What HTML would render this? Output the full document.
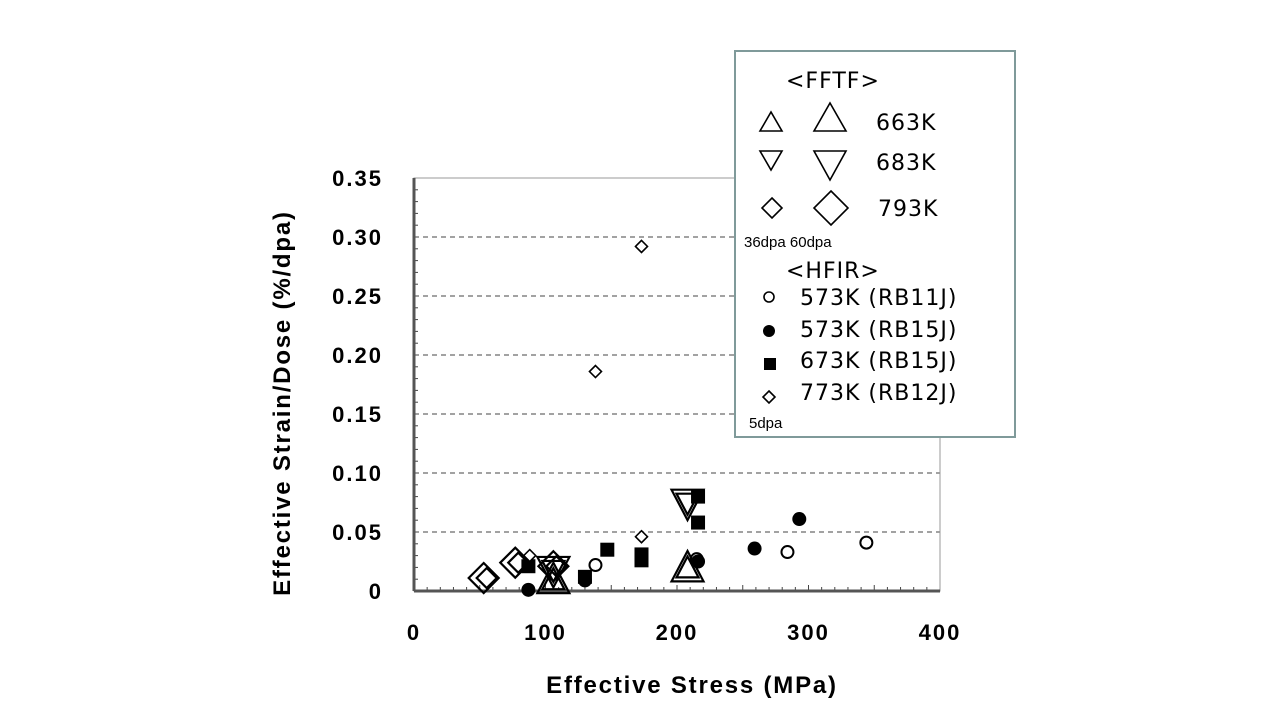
<!DOCTYPE html>
<html><head><meta charset="utf-8"><style>
body{margin:0;background:#fff;width:1280px;height:720px;overflow:hidden}
text{font-family:"Liberation Sans","Noto Sans CJK JP",sans-serif}
.lg{font-family:"DejaVu Sans","Noto Sans CJK JP",sans-serif;font-size:22px;letter-spacing:1px}
</style></head><body>
<svg width="1280" height="720">
<g id="grid"></g>
<g id="axes"></g>
<g id="marks"></g>
<text x="692" y="693" text-anchor="middle" font-size="24" font-weight="bold" letter-spacing="1.8">Effective Stress (MPa)</text>
<text transform="translate(290,403) rotate(-90)" text-anchor="middle" font-size="24" font-weight="bold" letter-spacing="1.8">Effective Strain/Dose (%/dpa)</text>
<g>
<rect x="735" y="51" width="280" height="386" fill="#fff" stroke="#7f9a9a" stroke-width="2"/>
<text class="lg" x="786" y="88">&lt;FFTF&gt;</text>
<polygon points="760,131 782,131 771,112" fill="none" stroke="#000" stroke-width="1.6"/>
<polygon points="814,131 846,131 830,103" fill="none" stroke="#000" stroke-width="1.6"/>
<text class="lg" x="876" y="130">663K</text>
<polygon points="760,151 782,151 771,170" fill="none" stroke="#000" stroke-width="1.6"/>
<polygon points="814,151 846,151 830,180" fill="none" stroke="#000" stroke-width="1.6"/>
<text class="lg" x="876" y="170">683K</text>
<polygon points="772,198 782,208 772,218 762,208" fill="none" stroke="#000" stroke-width="1.6"/>
<polygon points="831,191 848,208 831,225 814,208" fill="none" stroke="#000" stroke-width="1.6"/>
<text class="lg" x="878" y="216">793K</text>
<text x="744" y="247" font-size="15">36dpa 60dpa</text>
<text class="lg" x="786" y="278">&lt;HFIR&gt;</text>
<circle cx="769" cy="297" r="5" fill="none" stroke="#000" stroke-width="1.6"/>
<text class="lg" x="800" y="305">573K (RB11J)</text>
<circle cx="769" cy="331" r="6" fill="#000"/>
<text class="lg" x="800" y="337">573K (RB15J)</text>
<rect x="764" y="358" width="12" height="12" fill="#000"/>
<text class="lg" x="800" y="368">673K (RB15J)</text>
<polygon points="769,391 775,397 769,403 763,397" fill="none" stroke="#000" stroke-width="1.6"/>
<text class="lg" x="800" y="400">773K (RB12J)</text>
<text x="749" y="428" font-size="15">5dpa</text>
</g>
</svg>
<script>
const xTicks=[0,100,200,300,400];
const yTicks=[0,0.05,0.10,0.15,0.20,0.25,0.30,0.35];
const yTickLabels=["0","0.05","0.10","0.15","0.20","0.25","0.30","0.35"];
const rb11jX=[138,215,284,344], rb11jY=[0.022,0.027,0.033,0.041];
const rb15jX=[87,130,216,259,293], rb15jY=[0.001,0.009,0.025,0.036,0.061];
const sqX=[87,130,147,173,173,216,216], sqY=[0.021,0.012,0.035,0.031,0.026,0.058,0.080];
const rb12jX=[173,138,173,88], rb12jY=[0.292,0.186,0.046,0.030];
const triX=[106,208], triY=[0.009,0.019];
const invX=[106,208], invY=[0.018,0.075];
const diaX=[53,77,106], diaY=[0.011,0.024,0.021];
const X0=414,X1=940,Y0=591,Y1=178;
const sx=v=>X0+(v-0)/400*(X1-X0);
const sy=v=>Y0-(v/0.35)*(Y0-Y1);
const NS="http://www.w3.org/2000/svg";
function mk(tag,attrs,parent){const e=document.createElementNS(NS,tag);for(const k in attrs)e.setAttribute(k,attrs[k]);document.getElementById(parent).appendChild(e);return e;}
yTicks.forEach((t,i)=>{
 if(i>0&&i<yTicks.length-1){const g=mk('line',{x1:X0,x2:X1,y1:sy(t),y2:sy(t),stroke:'#444','stroke-dasharray':'5,4','stroke-width':1},'grid');
 
 }
 const l=mk('text',{x:383,y:sy(t)+8,'text-anchor':'end','font-size':22,'font-weight':'bold','letter-spacing':2},'axes');l.textContent=yTickLabels[i];
 
 
});
xTicks.forEach(t=>{const l=mk('text',{x:sx(t),y:640,'text-anchor':'middle','font-size':22,'font-weight':'bold','letter-spacing':2},'axes');l.textContent=t;
 
 });
for(let v=0;v<=400;v+=10){const big=v%50===0;mk('line',{x1:sx(v),x2:sx(v),y1:Y0,y2:Y0-(big?6:4),stroke:'#444'},'axes');}
for(let v=0;v<=0.35001;v+=0.01){mk('line',{x1:X0,x2:X0+4,y1:sy(v),y2:sy(v),stroke:'#444'},'axes');}
mk('rect',{x:X0,y:Y1,width:X1-X0,height:Y0-Y1,fill:'none',stroke:'#999','stroke-width':1},'axes');
mk('line',{x1:X0,x2:X0,y1:Y1,y2:Y0,stroke:'#555','stroke-width':3},'axes');
mk('line',{x1:X0,x2:X1,y1:Y0,y2:Y0,stroke:'#555','stroke-width':3},'axes');
function pt(tag,attrs,name){const e=mk(tag,attrs,'marks');
 
 }
rb11jX.forEach((x,i)=>pt('circle',{cx:sx(x),cy:sy(rb11jY[i]),r:6,fill:'#fff',stroke:'#000','stroke-width':2},'rb11j-point'));
rb15jX.forEach((x,i)=>pt('circle',{cx:sx(x),cy:sy(rb15jY[i]),r:7,fill:'#000'},'rb15j-573-point'));
sqX.forEach((x,i)=>pt('rect',{x:sx(x)-7,y:sy(sqY[i])-7,width:14,height:14,fill:'#000'},'rb15j-673-point'));
rb12jX.forEach((x,i)=>{const cx=sx(x),cy=sy(rb12jY[i]);pt('polygon',{points:`${cx},${cy-6} ${cx+6},${cy} ${cx},${cy+6} ${cx-6},${cy}`,fill:'#fff',stroke:'#000','stroke-width':1.6},'rb12j-point');});
triX.forEach((x,i)=>{const cx=sx(x),cy=sy(triY[i]);[16,11].forEach(s=>pt('polygon',{points:`${cx-s},${cy+s*0.8} ${cx+s},${cy+s*0.8} ${cx},${cy-s*1.1}`,fill:'none',stroke:'#000','stroke-width':2.2},'fftf-663-point'));});
invX.forEach((x,i)=>{const cx=sx(x),cy=sy(invY[i]);[16,11].forEach(s=>pt('polygon',{points:`${cx-s},${cy-s*0.8} ${cx+s},${cy-s*0.8} ${cx},${cy+s*1.1}`,fill:'none',stroke:'#000','stroke-width':2.2},'fftf-683-point'));});
diaX.forEach((x,i)=>{const cx=sx(x),cy=sy(diaY[i]);[15,10].forEach((s,j)=>pt('polygon',{points:`${cx+j*3},${cy-s} ${cx+s+j*3},${cy} ${cx+j*3},${cy+s} ${cx-s+j*3},${cy}`,fill:'none',stroke:'#000','stroke-width':2.2},'fftf-793-point'));});
</script>
</body></html>
